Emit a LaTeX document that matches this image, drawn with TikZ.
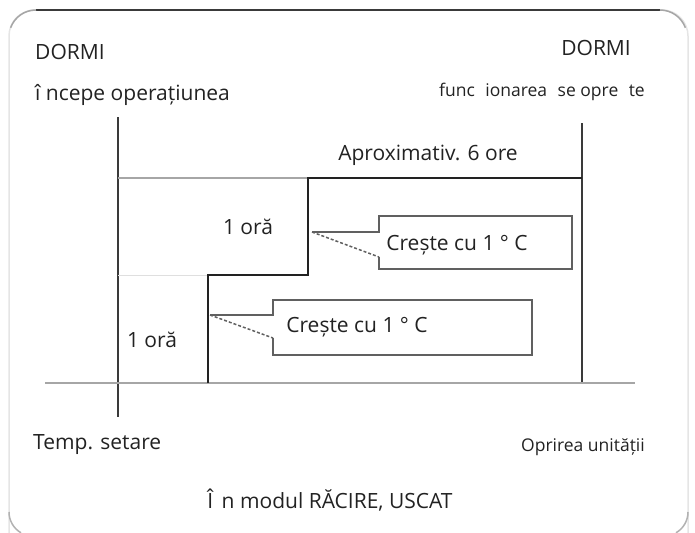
\documentclass[tikz,border=0pt]{standalone}
\usepackage{fontspec}
\setmainfont{Open Sans}
\definecolor{ink}{HTML}{222222}
\definecolor{rule}{HTML}{3A3A3A}
\begin{document}
\begin{tikzpicture}[
x=1pt,y=-1pt,
every node/.style={inner sep=0pt,text=ink,font=\fontsize{21}{24}\selectfont},
small/.style={font=\fontsize{17.5}{20}\selectfont},
axis/.style={draw=rule,line width=1.6pt},
thinline/.style={draw=gray!70,line width=1.3pt},
stepline/.style={draw=ink,line width=2.6pt},
callout/.style={draw=gray!75!black,line width=1.5pt},
pointer/.style={draw=gray!75!black,line width=1.5pt,dash pattern=on 3pt off 2pt}
]
\useasboundingbox (0,0) rectangle (695,532);
% frame
\draw[gray!20,line width=1.5pt,rounded corners=26pt] (9,10) rectangle (688,560);
\draw[rule,line width=1.8pt] (36,10) -- (660,10);
\draw[gray!70,line width=1.5pt] (36,10) arc[start angle=90,end angle=160,radius=27pt];
\draw[gray!70,line width=1.5pt] (660,10) arc[start angle=90,end angle=20,radius=27pt];
\draw[gray!60,line width=1.5pt] (9,512) arc[start angle=180,end angle=240,radius=24pt];
\draw[gray!60,line width=1.5pt] (688,512) arc[start angle=0,end angle=-60,radius=24pt];

% labels
\node[anchor=west] (dormiL) at (35,52) {DORMI};
\node[anchor=west] (startL) at (35,95) {î ncepe operațiunea};
\node[anchor=east] (dormiR) at (631,48) {DORMI};
\node[anchor=east,small] (stopR) at (645,92) {func\hspace{0.6em}ionarea\hspace{0.6em}se opre\hspace{0.6em}te};
\node (aprox) at (428,155) {Aproximativ. 6 ore};
\node (ora1) at (248,227) {1 oră};
\node (ora2) at (152,340) {1 oră};
\node[anchor=west] (temp) at (33,445) {Temp. setare};
\node[anchor=east,small] (oprire) at (645,447) {Oprirea unității};
\node (mode) at (330,500) {Î\hspace{0.4em}n modul RĂCIRE, USCAT};

% axes
\coordinate (s0) at (118,117);
\coordinate (s1) at (118,417);
\coordinate (e0) at (582,123);
\coordinate (e1) at (582,383);
\coordinate (b0) at (45,383);
\coordinate (b1) at (635,383);
\draw[axis] (s0) -- (s1);
\draw[axis] (e0) -- (e1);
\draw[thinline,line width=1.8pt] (b0) -- (b1);
\draw[thinline] (s0 |- 0,178) -- (308,178);
\draw[gray!25,line width=1pt] (s0 |- 0,275) -- (208,275);

% temperature steps
\coordinate (p0) at (208,383);
\coordinate (p1) at (208,275);
\coordinate (p2) at (308,275);
\coordinate (p3) at (308,178);
\draw[stepline] (p0) -- (p1) -- (p2) -- (p3) -- (e0 |- p3);

% callouts
\node (cresteA) at (457,245) {Crește cu 1 ° C};
\node (cresteB) at (357,327) {Crește cu 1 ° C};
\coordinate (tipA) at (312,232);
\coordinate (tipB) at (210,315);
\draw[callout] (379,257) -- (379,269) -- (572,269) -- (572,216) -- (379,216) -- (379,232) -- (tipA);
\draw[pointer] (tipA) -- (379,257);
\draw[callout] (273,338) -- (273,355) -- (532,355) -- (532,300) -- (273,300) -- (273,315) -- (tipB);
\draw[pointer] (tipB) -- (273,338);
\end{tikzpicture}
\end{document}
